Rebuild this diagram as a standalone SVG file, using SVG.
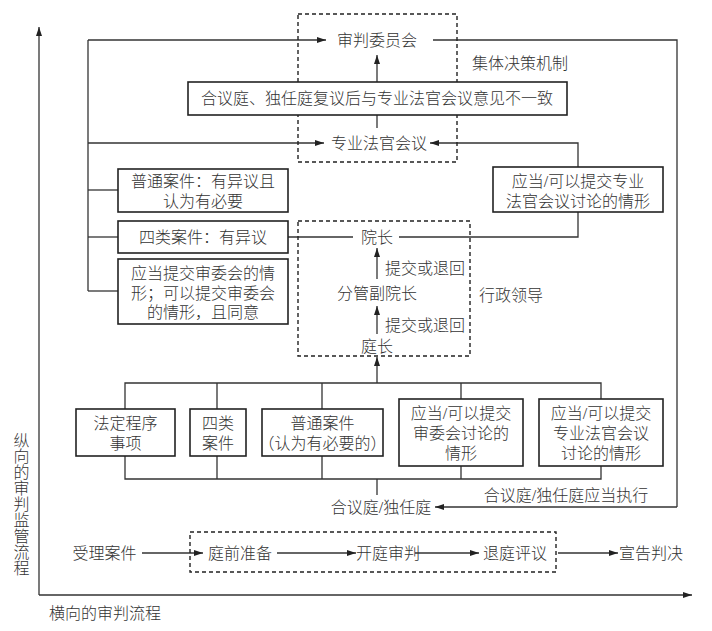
<svg xmlns="http://www.w3.org/2000/svg" width="712" height="631" viewBox="0 0 712 631">
<defs>
<marker id="ah" viewBox="0 0 9 6" refX="9" refY="3" markerWidth="9" markerHeight="6" markerUnits="userSpaceOnUse" orient="auto">
<path d="M0,0 L9,3 L0,6 z" fill="#222"/>
</marker>
</defs>
<style>
text{font-family:"Liberation Serif","Noto Sans CJK SC",serif;font-size:16px;fill:#333;dominant-baseline:central;text-anchor:middle;font-weight:300}
.box{fill:#fff;stroke:#222;stroke-width:1.6}
.dash{fill:none;stroke:#222;stroke-width:1.4;stroke-dasharray:4 3}
.ln{fill:none;stroke:#333;stroke-width:1.3}
.ar{fill:none;stroke:#333;stroke-width:1.3;marker-end:url(#ah)}
.vert{writing-mode:vertical-rl;text-orientation:upright;text-anchor:start}
</style>
<rect width="712" height="631" fill="#fff"/>

<g id="axes">
<path class="ar" d="M39,595 L39,27"/>
<path class="ar" d="M39,595 L692,595"/>
<text class="vert" x="20" y="432">纵向的审判监管流程</text>
<text x="105" y="613">横向的审判流程</text>
</g>

<g id="connectors">
<path class="ln" d="M88,40 L88,291"/>
<path class="ar" d="M88,40 L326,40"/>
<path class="ar" d="M88,143 L324,143"/>
<path class="ln" d="M88,190 L118,190"/>
<path class="ln" d="M88,237 L118,237"/>
<path class="ln" d="M88,291 L118,291"/>
<path class="ln" d="M377,128 L377,115"/>
<path class="ar" d="M377,82 L377,55"/>
<path class="ln" d="M433,40 L677,40 L677,507"/>
<path class="ar" d="M677,507 L435,507"/>
<path class="ar" d="M578,167 L578,143 L430,143"/>
<path class="ln" d="M288,237 L353,237"/>
<path class="ln" d="M399,237 L578,237 L578,212"/>
<path class="ar" d="M377,279 L377,248"/>
<path class="ar" d="M377,334 L377,306"/>
<path class="ar" d="M377,383 L377,357"/>
<path class="ln" d="M125,409 L125,383 L601,383 L601,399"/>
<path class="ln" d="M217,383 L217,409 M322,383 L322,409 M461,383 L461,399"/>
<path class="ln" d="M125,456 L125,479 L601,479 L601,466"/>
<path class="ln" d="M217,456 L217,479 M322,456 L322,479 M461,466 L461,479"/>
<path class="ln" d="M377,479 L377,495"/>
<path class="ar" d="M142,553 L203,553"/>
<path class="ar" d="M277,553 L356,553"/>
<path class="ar" d="M415,553 L479,553"/>
<path class="ar" d="M558,553 L618,553"/>
</g>

<g id="collective">
<rect class="dash" x="298" y="14" width="159" height="148"/>
<text x="520" y="63">集体决策机制</text>
</g>
<g id="shenweihui"><text x="377" y="40">审判委员会</text></g>
<g id="disagree">
<rect class="box" x="188" y="82" width="379" height="33"/>
<text x="377" y="98.5">合议庭、独任庭复议后与专业法官会议意见不一致</text>
</g>
<g id="zhuanye"><text x="379" y="143">专业法官会议</text></g>

<g id="putong-yiyi">
<rect class="box" x="118" y="169" width="170" height="43"/>
<text x="203" y="181">普通案件：有异议且<tspan x="203" dy="20">认为有必要</tspan></text>
</g>
<g id="silei-yiyi">
<rect class="box" x="118" y="221" width="170" height="32"/>
<text x="203" y="237">四类案件：有异议</text>
</g>
<g id="yingdang-shenwei">
<rect class="box" x="118" y="259" width="170" height="65"/>
<text x="203" y="273">应当提交审委会的情<tspan x="203" dy="20">形；可以提交审委会</tspan><tspan x="203" dy="19">的情形，且同意</tspan></text>
</g>
<g id="yingdang-zhuanye-top">
<rect class="box" x="493" y="167" width="170" height="45"/>
<text x="578" y="181">应当/可以提交专业<tspan x="578" dy="20">法官会议讨论的情形</tspan></text>
</g>

<g id="admin">
<rect class="dash" x="298" y="221" width="172" height="135"/>
<text x="511" y="295">行政领导</text>
</g>
<g id="yuanzhang"><text x="377" y="237">院长</text></g>
<g id="label1"><text x="425" y="268">提交或退回</text></g>
<g id="fenguan"><text x="377" y="293">分管副院长</text></g>
<g id="label2"><text x="425" y="325">提交或退回</text></g>
<g id="tingzhang"><text x="377" y="346">庭长</text></g>

<g id="fading">
<rect class="box" x="76" y="409" width="99" height="47"/>
<text x="125.5" y="423">法定程序<tspan x="125.5" dy="20">事项</tspan></text>
</g>
<g id="silei">
<rect class="box" x="190" y="409" width="56" height="47"/>
<text x="218" y="423">四类<tspan x="218" dy="20">案件</tspan></text>
</g>
<g id="putong">
<rect class="box" x="262" y="409" width="121" height="47"/>
<text x="322.5" y="423">普通案件<tspan x="322.5" dy="20">（认为有必要的）</tspan></text>
</g>
<g id="yingdang-shenwei-bottom">
<rect class="box" x="399" y="399" width="124" height="67"/>
<text x="461" y="413">应当/可以提交<tspan x="461" dy="20">审委会讨论的</tspan><tspan x="461" dy="20">情形</tspan></text>
</g>
<g id="yingdang-zhuanye-bottom">
<rect class="box" x="539" y="399" width="124" height="67"/>
<text x="601" y="413">应当/可以提交<tspan x="601" dy="20">专业法官会议</tspan><tspan x="601" dy="20">讨论的情形</tspan></text>
</g>

<g id="heyiting"><text x="381" y="507">合议庭/独任庭</text></g>
<g id="execute-label"><text x="566" y="495">合议庭/独任庭应当执行</text></g>

<g id="horizontal-flow">
<rect class="dash" x="190" y="532" width="366" height="40"/>
<text x="104.5" y="553">受理案件</text>
<text x="240" y="553">庭前准备</text>
<text x="388" y="553">开庭审判</text>
<text x="515" y="553">退庭评议</text>
<text x="651" y="553">宣告判决</text>
</g>
</svg>
